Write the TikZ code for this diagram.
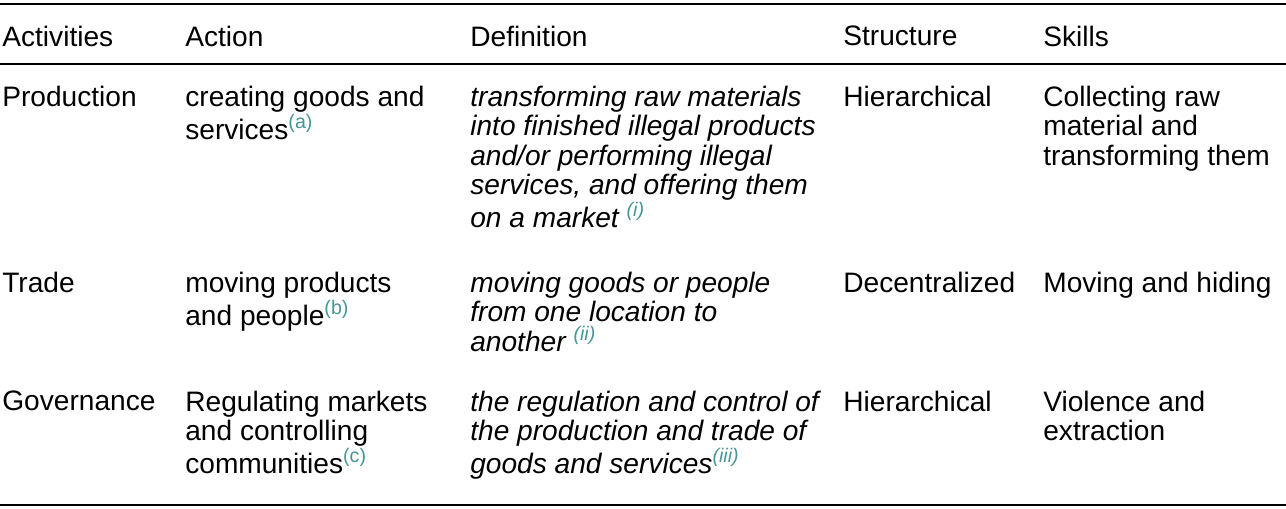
\documentclass[tikz,border=0pt]{standalone}
\usepackage{fontspec}
\setmainfont{Liberation Sans}
\definecolor{notecol}{RGB}{70,150,150}
\newcommand{\nt}[1]{\textsuperscript{\textcolor{notecol}{#1}}}
\tikzset{cell/.style={anchor=north west,inner sep=0pt,align=left,font=\fontsize{16pt}{16.6pt}\selectfont},
  rule/.style={line width=1.1pt}}
\begin{document}
\begin{tikzpicture}[x=0.02cm,y=-0.02cm]
\useasboundingbox (0,0) rectangle (1286,509);
\coordinate (tl) at (0,4);   \coordinate (tr) at (1286,4);
\coordinate (ml) at (0,64);  \coordinate (mr) at (1286,64);
\coordinate (bl) at (0,505); \coordinate (br) at (1286,505);
\draw[rule] (tl) -- (tr);
\draw[line width=0.7pt] (ml) -- (mr);
\draw[rule] (bl) -- (br);

\node[cell] (h1) at (2,26)    {Activities};
\node[cell] (h2) at (185,26)  {Action};
\node[cell] (h3) at (470,26)  {Definition};
\node[cell] (h4) at (843,26)  {Structure};
\node[cell] (h5) at (1043,26) {Skills};

\node[cell] (p1) at (2,86)    {Production};
\node[cell] (p2) at (185,86)  {creating goods and\\services\nt{(a)}};
\node[cell] (p3) at (470,86)  {\itshape transforming raw materials\\\itshape into finished illegal products\\\itshape and/or performing illegal\\\itshape services, and offering them\\\itshape on a market \nt{(i)}};
\node[cell] (p4) at (843,86)  {Hierarchical};
\node[cell] (p5) at (1043,86) {Collecting raw\\material and\\transforming them};

\node[cell] (t1) at (2,272)    {Trade};
\node[cell] (t2) at (185,272)  {moving products\\and people\nt{(b)}};
\node[cell] (t3) at (470,272)  {\itshape moving goods or people\\\itshape from one location to\\\itshape another \nt{(ii)}};
\node[cell] (t4) at (843,272)  {Decentralized};
\node[cell] (t5) at (1043,272) {Moving and hiding};

\node[cell] (g1) at (2,391)    {Governance};
\node[cell] (g2) at (185,391)  {Regulating markets\\and controlling\\communities\nt{(c)}};
\node[cell] (g3) at (470,391)  {\itshape the regulation and control of\\\itshape the production and trade of\\\itshape goods and services\nt{(iii)}};
\node[cell] (g4) at (843,391)  {Hierarchical};
\node[cell] (g5) at (1043,391) {Violence and\\extraction};
\end{tikzpicture}
\end{document}
